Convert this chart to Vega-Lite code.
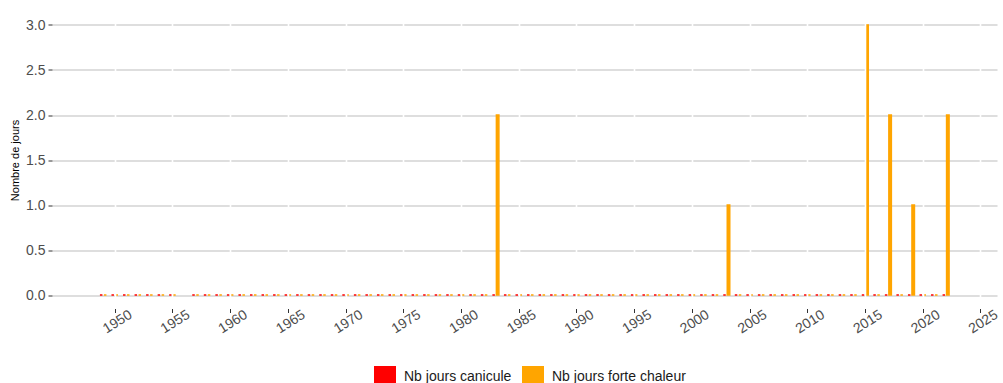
{
  "$schema": "https://vega.github.io/schema/vega-lite/v6.json",
  "autosize": "none",
  "width": 945,
  "height": 297,
  "padding": {"left": 52, "top": 11.5, "right": 6, "bottom": 74.5},
  "background": "white",
  "config": {
    "font": "Liberation Sans",
    "view": {"stroke": null},
    "axis": {"domain": false, "labelFont": "Liberation Sans", "titleFont": "Liberation Sans"}
  },
  "data": {
    "values": [
      {"annee": 1949, "canicule": 0, "forte": 0},
      {"annee": 1950, "canicule": 0, "forte": 0},
      {"annee": 1951, "canicule": 0, "forte": 0},
      {"annee": 1952, "canicule": 0, "forte": 0},
      {"annee": 1953, "canicule": 0, "forte": 0},
      {"annee": 1954, "canicule": 0, "forte": 0},
      {"annee": 1955, "canicule": 0, "forte": 0},
      {"annee": 1957, "canicule": 0, "forte": 0},
      {"annee": 1958, "canicule": 0, "forte": 0},
      {"annee": 1959, "canicule": 0, "forte": 0},
      {"annee": 1960, "canicule": 0, "forte": 0},
      {"annee": 1961, "canicule": 0, "forte": 0},
      {"annee": 1962, "canicule": 0, "forte": 0},
      {"annee": 1963, "canicule": 0, "forte": 0},
      {"annee": 1964, "canicule": 0, "forte": 0},
      {"annee": 1965, "canicule": 0, "forte": 0},
      {"annee": 1966, "canicule": 0, "forte": 0},
      {"annee": 1967, "canicule": 0, "forte": 0},
      {"annee": 1968, "canicule": 0, "forte": 0},
      {"annee": 1969, "canicule": 0, "forte": 0},
      {"annee": 1970, "canicule": 0, "forte": 0},
      {"annee": 1971, "canicule": 0, "forte": 0},
      {"annee": 1972, "canicule": 0, "forte": 0},
      {"annee": 1973, "canicule": 0, "forte": 0},
      {"annee": 1974, "canicule": 0, "forte": 0},
      {"annee": 1975, "canicule": 0, "forte": 0},
      {"annee": 1976, "canicule": 0, "forte": 0},
      {"annee": 1977, "canicule": 0, "forte": 0},
      {"annee": 1978, "canicule": 0, "forte": 0},
      {"annee": 1979, "canicule": 0, "forte": 0},
      {"annee": 1980, "canicule": 0, "forte": 0},
      {"annee": 1981, "canicule": 0, "forte": 0},
      {"annee": 1982, "canicule": 0, "forte": 0},
      {"annee": 1983, "canicule": 0, "forte": 2},
      {"annee": 1984, "canicule": 0, "forte": 0},
      {"annee": 1985, "canicule": 0, "forte": 0},
      {"annee": 1986, "canicule": 0, "forte": 0},
      {"annee": 1987, "canicule": 0, "forte": 0},
      {"annee": 1988, "canicule": 0, "forte": 0},
      {"annee": 1989, "canicule": 0, "forte": 0},
      {"annee": 1990, "canicule": 0, "forte": 0},
      {"annee": 1991, "canicule": 0, "forte": 0},
      {"annee": 1992, "canicule": 0, "forte": 0},
      {"annee": 1993, "canicule": 0, "forte": 0},
      {"annee": 1994, "canicule": 0, "forte": 0},
      {"annee": 1995, "canicule": 0, "forte": 0},
      {"annee": 1996, "canicule": 0, "forte": 0},
      {"annee": 1997, "canicule": 0, "forte": 0},
      {"annee": 1998, "canicule": 0, "forte": 0},
      {"annee": 1999, "canicule": 0, "forte": 0},
      {"annee": 2000, "canicule": 0, "forte": 0},
      {"annee": 2001, "canicule": 0, "forte": 0},
      {"annee": 2002, "canicule": 0, "forte": 0},
      {"annee": 2003, "canicule": 0, "forte": 1},
      {"annee": 2004, "canicule": 0, "forte": 0},
      {"annee": 2005, "canicule": 0, "forte": 0},
      {"annee": 2006, "canicule": 0, "forte": 0},
      {"annee": 2007, "canicule": 0, "forte": 0},
      {"annee": 2008, "canicule": 0, "forte": 0},
      {"annee": 2009, "canicule": 0, "forte": 0},
      {"annee": 2010, "canicule": 0, "forte": 0},
      {"annee": 2011, "canicule": 0, "forte": 0},
      {"annee": 2012, "canicule": 0, "forte": 0},
      {"annee": 2013, "canicule": 0, "forte": 0},
      {"annee": 2014, "canicule": 0, "forte": 0},
      {"annee": 2015, "canicule": 0, "forte": 3},
      {"annee": 2016, "canicule": 0, "forte": 0},
      {"annee": 2017, "canicule": 0, "forte": 2},
      {"annee": 2018, "canicule": 0, "forte": 0},
      {"annee": 2019, "canicule": 0, "forte": 1},
      {"annee": 2020, "canicule": 0, "forte": 0},
      {"annee": 2021, "canicule": 0, "forte": 0},
      {"annee": 2022, "canicule": 0, "forte": 2}
    ]
  },
  "encoding": {
    "x": {
      "field": "annee",
      "type": "quantitative",
      "scale": {"domain": [1945, 2026], "nice": false, "zero": false},
      "axis": {
        "title": null,
        "values": [1950, 1955, 1960, 1965, 1970, 1975, 1980, 1985, 1990, 1995, 2000, 2005, 2010, 2015, 2020, 2025],
        "format": "d",
        "labelAngle": -32,
        "labelAlign": "center",
        "labelBaseline": "middle",
        "labelPadding": 9,
        "labelOffset": 2.5,
        "labelFontSize": 14,
        "labelColor": "#4d4d4d",
        "tickSize": 4,
        "tickColor": "#333333",
        "grid": true,
        "gridColor": "white",
        "gridWidth": 1.6,
        "zindex": 1
      }
    }
  },
  "layer": [
    {
      "mark": {"type": "bar", "width": 2.5, "xOffset": -2, "stroke": "#FF0000", "strokeWidth": 1.5},
      "encoding": {
        "y": {
          "field": "canicule",
          "type": "quantitative",
          "scale": {"domain": [-0.15, 3.15], "nice": false, "zero": false},
          "axis": {
            "title": "Nombre de jours",
            "titleFontSize": 11,
            "titleFontWeight": "normal",
            "titleColor": "black",
            "titlePadding": 5,
            "values": [0, 0.5, 1, 1.5, 2, 2.5, 3],
            "format": ".1f",
            "labelFontSize": 14,
            "labelColor": "#4d4d4d",
            "labelPadding": 3,
            "tickSize": 4,
            "tickColor": "#333333",
            "grid": true,
            "gridColor": "#bdbdbd",
            "gridWidth": 1.2
          }
        },
        "y2": {"datum": 0},
        "color": {
          "datum": "Nb jours canicule",
          "type": "nominal",
          "scale": {"domain": ["Nb jours canicule", "Nb jours forte chaleur"], "range": ["#FF0000", "#FFA500"]},
          "legend": {
            "title": null,
            "orient": "none",
            "legendX": 322,
            "legendY": 354.5,
            "direction": "horizontal",
            "symbolType": "square",
            "symbolSize": 484,
            "symbolStrokeWidth": 0,
            "labelFontSize": 14,
            "labelColor": "#1a1a1a",
            "labelOffset": 8,
            "columnPadding": 10,
            "labelFont": "Liberation Sans"
          }
        }
      }
    },
    {
      "mark": {"type": "bar", "width": 2.5, "xOffset": 2, "stroke": "#FFA500", "strokeWidth": 1.5},
      "encoding": {
        "y": {"field": "forte", "type": "quantitative"},
        "y2": {"datum": 0},
        "color": {"datum": "Nb jours forte chaleur", "type": "nominal"}
      }
    }
  ]
}
